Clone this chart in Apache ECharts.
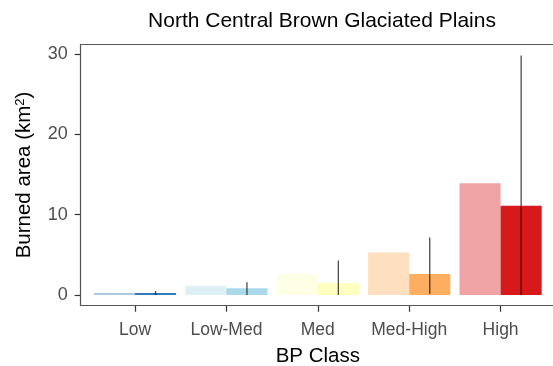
<!DOCTYPE html>
<html>
<head>
<meta charset="utf-8">
<script src="https://cdn.jsdelivr.net/npm/echarts@6/dist/echarts.min.js"></script>
<style>
  html, body { margin: 0; padding: 0; background: #fff; }
  #chart { width: 553px; height: 366px; }
</style>
</head>
<body>
<div id="chart"></div>
<script>
const categories = ['Low', 'Low-Med', 'Med', 'Med-High', 'High'];
const observed = [0.25, 1.15, 2.6, 5.3, 13.9];
const predicted = [0.25, 0.85, 1.5, 2.6, 11.1];
const predLow = [0.0, 0.0, 0.0, 0.15, 0.0];
const predHigh = [0.5, 1.6, 4.3, 7.15, 29.8];
const yTicks = [0, 10, 20, 30];

// RdYlBu, light version = same colour at 40% on white
const darkColors = ['#2c7bb6', '#abd9e9', '#ffffbf', '#fdae61', '#d7191c'];
const lightColors = ['#abcae2', '#ddf0f6', '#ffffe5', '#fedfc0', '#efa3a4'];

const font = "'Liberation Sans', Arial, sans-serif";
const barW = 41.1;

const chart = echarts.init(document.getElementById('chart'));

chart.setOption({
  animation: false,
  textStyle: { fontFamily: font },
  title: {
    text: 'North Central Brown Glaciated Plains',
    left: 317,
    textAlign: 'center',
    top: 6,
    textStyle: { fontSize: 21, fontWeight: 'normal', color: '#000', fontFamily: font }
  },
  graphic: [{
    type: 'rect',
    shape: { x: 80.5, y: 44.5, width: 480, height: 261 },
    style: { fill: 'none', stroke: '#555', lineWidth: 1.2 },
    z: 10
  }],
  grid: { left: 89.3, width: 457, top: 44.3, height: 261.4, outerBoundsMode: 'none', containLabel: false },
  xAxis: {
    type: 'category',
    data: categories,
    name: 'BP Class',
    nameLocation: 'middle',
    nameGap: 40,
    nameTextStyle: { fontSize: 20.5, color: '#000' },
    axisLine: { show: false, onZero: false },
    axisTick: { show: true, alignWithLabel: true, length: 6, lineStyle: { color: '#333', width: 1.2 } },
    axisLabel: { fontSize: 17.5, color: '#4d4d4d', margin: 15, interval: 0, hideOverlap: false },
    splitLine: { show: false }
  },
  yAxis: {
    type: 'value',
    min: -1.33,
    max: 31.2,
    offset: 8.6,
    name: 'Burned area (km{sup|2})',
    nameLocation: 'middle',
    nameRotate: 90,
    nameGap: 45,
    nameTextStyle: {
      fontSize: 20.5, color: '#000',
      rich: { sup: { fontSize: 13, verticalAlign: 'top', color: '#000', padding: [0, 0, 9, 0] } }
    },
    axisLine: { show: false },
    axisTick: { show: true, length: 6, customValues: yTicks, lineStyle: { color: '#333', width: 1.2 } },
    axisLabel: { fontSize: 18, color: '#4d4d4d', margin: 13, customValues: yTicks },
    splitLine: { show: false }
  },
  series: [
    {
      type: 'bar',
      barWidth: barW,
      barGap: '0%',
      data: observed.map((v, i) => ({ value: v, itemStyle: { color: lightColors[i] } }))
    },
    {
      type: 'bar',
      barWidth: barW,
      barGap: '0%',
      data: predicted.map((v, i) => ({ value: v, itemStyle: { color: darkColors[i] } }))
    },
    {
      type: 'custom',
      z: 5,
      encode: { x: 0, y: [1, 2] },
      data: categories.map((c, i) => [i, predLow[i], predHigh[i]]),
      renderItem: function (params, api) {
        const lo = api.coord([api.value(0), api.value(1)]);
        const hi = api.coord([api.value(0), api.value(2)]);
        const x = lo[0] + barW / 2;
        return {
          type: 'line',
          shape: { x1: x, y1: lo[1], x2: x, y2: hi[1] },
          style: { stroke: 'rgba(0,0,0,0.7)', lineWidth: 1.3 }
        };
      }
    }
  ]
});
</script>
</body>
</html>
